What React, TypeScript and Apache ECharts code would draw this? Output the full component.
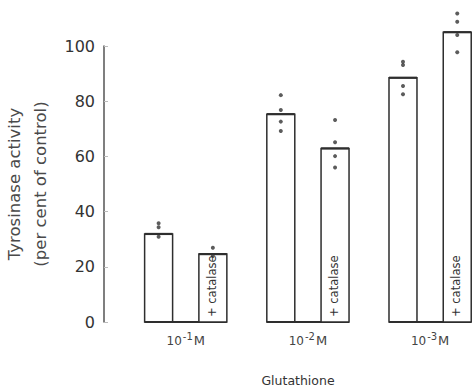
import { useEffect, useRef } from 'react';
import * as echarts from 'echarts';

// ---- data ----
const exponents = ['-1', '-2', '-3']; // glutathione concentration 10^e M
const unit = 'M';
const glutathione = [31.9, 75.3, 88.5];
const withCatalase = [24.6, 62.9, 105.0];
const glutathioneDots = [
  [35.8, 34.3, 30.9],
  [82.2, 76.8, 72.6, 69.2],
  [94.3, 93.1, 85.5, 82.5],
];
const catalaseDots = [
  [26.9, 23.9],
  [73.2, 65.1, 60.1, 56.0],
  [111.8, 108.8, 104.0, 97.7],
];
const yTickMax = 100;
const yTickStep = 20;
const yAxisName = ['Tyrosinase activity', '(per cent of control)'];
const xAxisName = 'Glutathione';
const barLabel = '+ catalase';

// ---- styling ----
const FONT = 'DejaVu Sans';
const BAR_OFFSET = 0.222; // axis units from group centre
const BAR_WIDTH = 0.229; // axis units
const INK = '#2e2e2e';

export default function App() {
  const ref = useRef<HTMLDivElement>(null);

  useEffect(() => {
    document.body.style.margin = '0';
    const chart = echarts.init(ref.current!, null, { renderer: 'svg' });

    const makeBar = (side: number, withText: boolean) => (params: any, api: any) => {
      const x = api.value(0) as number;
      const v = api.value(1) as number;
      const top = api.coord([x + side * BAR_OFFSET, v]);
      const bottom = api.coord([x + side * BAR_OFFSET, 0]);
      const w = api.size([BAR_WIDTH, 0])[0];
      const children: any[] = [
        {
          type: 'rect',
          shape: { x: top[0] - w / 2, y: top[1], width: w, height: bottom[1] - top[1] },
          style: { fill: '#fff', stroke: INK, lineWidth: 1.5 },
        },
        {
          type: 'line',
          shape: { x1: top[0] - w / 2, y1: top[1], x2: top[0] + w / 2, y2: top[1] },
          style: { stroke: INK, lineWidth: 2.2 },
        },
      ];
      if (side < 0) {
        const l = api.coord([x - BAR_OFFSET, 0])[0] - w / 2;
        const r = api.coord([x + BAR_OFFSET, 0])[0] + w / 2;
        children.push({
          type: 'line',
          shape: { x1: l, y1: bottom[1], x2: r, y2: bottom[1] },
          style: { stroke: INK, lineWidth: 2 },
        });
      }
      if (withText) {
        children.push({
          type: 'text',
          x: top[0] - 1,
          y: bottom[1] - 5,
          rotation: Math.PI / 2,
          style: {
            text: barLabel,
            fontSize: 11.5,
            fontFamily: FONT,
            fill: '#333',
            align: 'left',
            verticalAlign: 'middle',
          },
        });
      }
      return { type: 'group', children };
    };

    const groupX = exponents.map((_, i) => i + 1);

    chart.setOption({
      animation: false,
      backgroundColor: '#fff',
      grid: { left: 104, right: 0, top: 46, bottom: 70, outerBoundsMode: 'none', containLabel: false },
      xAxis: { type: 'value', min: 0.331, max: 3.351, show: false },
      yAxis: {
        type: 'value',
        min: 0,
        max: yTickMax,
        interval: yTickStep,
        name: yAxisName.join('\n'),
        nameLocation: 'middle',
        nameRotate: 90,
        nameGap: 42,
        nameTextStyle: { fontFamily: FONT, fontSize: 16.5, lineHeight: 26, color: '#4a4a4a' },
        axisLine: { show: true, lineStyle: { color: '#555', width: 1.5 } },
        axisTick: { show: true, inside: true, length: 4, lineStyle: { color: '#bbb' } },
        splitLine: { show: false },
        axisLabel: { fontFamily: FONT, fontSize: 16, color: '#333', margin: 9 },
      },
      series: [
        {
          type: 'custom',
          name: 'glutathione',
          data: glutathione.map((v, i) => [groupX[i], v]),
          renderItem: makeBar(-1, false),
          clip: false,
          z: 2,
        },
        {
          type: 'custom',
          name: 'glutathione + catalase',
          data: withCatalase.map((v, i) => [groupX[i], v]),
          renderItem: makeBar(1, true),
          clip: false,
          z: 2,
        },
        {
          type: 'scatter',
          name: 'glutathione points',
          data: glutathioneDots.flatMap((vals, i) => vals.map((v) => [groupX[i] - BAR_OFFSET, v])),
          symbolSize: 4,
          itemStyle: { color: '#333' },
          clip: false,
          z: 5,
        },
        {
          type: 'scatter',
          name: 'catalase points',
          data: catalaseDots.flatMap((vals, i) => vals.map((v) => [groupX[i] + BAR_OFFSET, v])),
          symbolSize: 4,
          itemStyle: { color: '#333' },
          clip: false,
          z: 5,
        },
        {
          type: 'custom',
          name: 'concentration labels',
          data: groupX.map((x) => [x]),
          clip: false,
          renderItem: (params: any, api: any) => {
            const p = api.coord([api.value(0), 0]);
            const e = exponents[params.dataIndex];
            return {
              type: 'text',
              x: p[0],
              y: p[1] + 17,
              style: {
                text: `{b|10}{s|${e}}{m|${unit}}`,
                align: 'center',
                verticalAlign: 'middle',
                fill: '#444',
                rich: {
                  b: { fontFamily: FONT, fontSize: 12, lineHeight: 16, verticalAlign: 'bottom', fill: '#444' },
                  s: { fontFamily: FONT, fontSize: 10, lineHeight: 16, verticalAlign: 'top', fill: '#444', padding: [0, 1, 0, 1] },
                  m: { fontFamily: FONT, fontSize: 13, lineHeight: 16, verticalAlign: 'bottom', fill: '#444' },
                },
              },
            };
          },
        },
      ],
      graphic: [
        {
          type: 'text',
          x: 298,
          y: 380,
          style: {
            text: xAxisName,
            fontFamily: FONT,
            fontSize: 12.5,
            fill: '#333',
            align: 'center',
            verticalAlign: 'middle',
          },
        },
      ],
    });

    return () => chart.dispose();
  }, []);

  return <div ref={ref} style={{ width: 473, height: 392 }} />;
}
